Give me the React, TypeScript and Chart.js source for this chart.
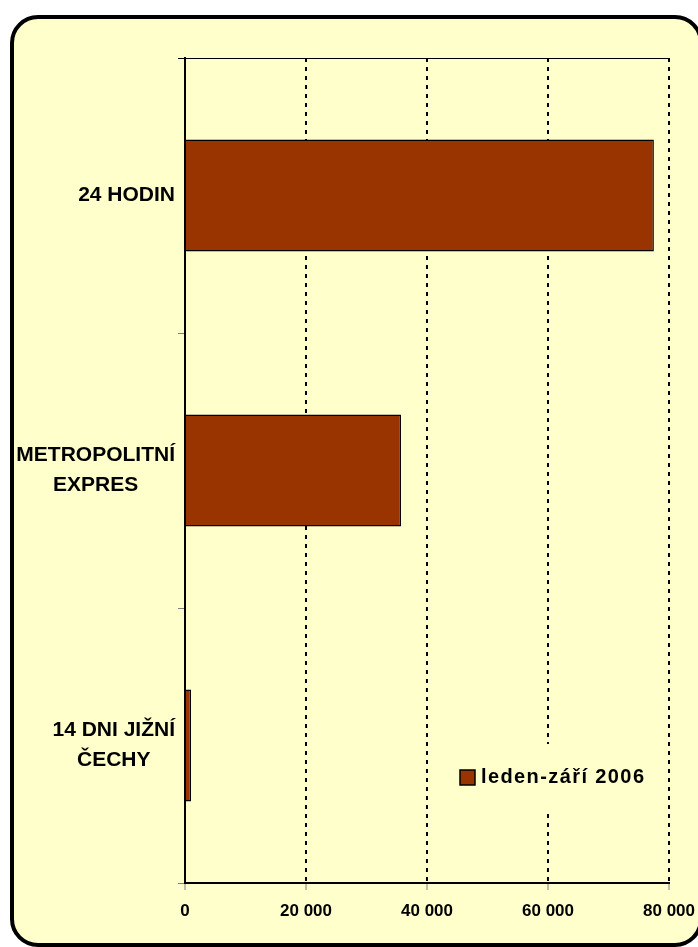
import { useEffect, useRef } from 'react';
import { Chart, registerables } from 'chart.js';

Chart.register(...registerables);

const categories: string[][] = [['24 HODIN'], ['METROPOLITNÍ', 'EXPRES'], ['14 DNI JIŽNÍ', 'ČECHY']];
const seriesLabel = 'leden-září 2006';
const seriesValues: number[] = [77500, 35700, 1000];
const xTickValues: number[] = [0, 20000, 40000, 60000, 80000];

const FONT = "'Liberation Sans', Arial, Helvetica, sans-serif";
const BG = '#FFFFCC';
const BAR = '#993300';
const CANVAS_W = 740;

const fmt = (v: number) => String(v).replace(/\B(?=(\d{3})+(?!\d))/g, ' ');

const categoryLabelPlugin = {
  id: 'categoryLabels',
  afterDraw(chart: any) {
    const ctx = chart.ctx as CanvasRenderingContext2D;
    const y = chart.scales.y;
    ctx.save();
    ctx.font = `bold 21px ${FONT}`;
    ctx.fillStyle = '#000';
    ctx.textAlign = 'center';
    ctx.textBaseline = 'middle';
    const lineH = 30;
    const right = y.right - 10;
    (chart.data.labels as string[][]).forEach((lines, i) => {
      const cy = y.getPixelForTick(i);
      const w = Math.max(...lines.map((l) => ctx.measureText(l).width));
      const cx = right - w / 2;
      lines.forEach((l, j) => ctx.fillText(l, cx, cy + (j - (lines.length - 1) / 2) * lineH));
    });
    ctx.restore();
  },
};

const innerLegendPlugin = {
  id: 'innerLegend',
  afterDraw(chart: any) {
    const ctx = chart.ctx as CanvasRenderingContext2D;
    const area = chart.chartArea;
    const ds = chart.data.datasets[0];
    const bx = area.left + 255;
    const by = area.top + 686;
    ctx.save();
    ctx.fillStyle = BG;
    ctx.fillRect(bx, by, 220, 69);
    const sx = bx + 20;
    const sy = by + 26;
    ctx.fillStyle = ds.backgroundColor;
    ctx.fillRect(sx, sy, 15, 15);
    ctx.strokeStyle = '#000';
    ctx.lineWidth = 1.5;
    ctx.strokeRect(sx, sy, 15, 15);
    ctx.fillStyle = '#000';
    ctx.font = `bold 20px ${FONT}`;
    (ctx as any).letterSpacing = '1.4px';
    ctx.textAlign = 'left';
    ctx.textBaseline = 'middle';
    ctx.fillText(ds.label, sx + 21, sy + 7);
    ctx.restore();
  },
};

function BarChart() {
  const ref = useRef<HTMLCanvasElement | null>(null);
  useEffect(() => {
    if (!ref.current) return;
    const chart = new Chart(ref.current, {
      type: 'bar',
      data: {
        labels: categories as any,
        datasets: [
          {
            label: seriesLabel,
            data: seriesValues,
            backgroundColor: BAR,
            borderColor: '#000',
            borderWidth: 1.5,
            barPercentage: 0.407,
            categoryPercentage: 1,
          },
        ],
      },
      options: {
        indexAxis: 'y',
        responsive: false,
        animation: false,
        layout: { padding: { left: 0, top: 58, right: CANVAS_W - 669, bottom: 0 } },
        plugins: { legend: { display: false }, tooltip: { enabled: false } },
        scales: {
          x: {
            type: 'linear',
            min: xTickValues[0],
            max: xTickValues[xTickValues.length - 1],
            afterBuildTicks: (s: any) => {
              s.ticks = xTickValues.map((v) => ({ value: v }));
            },
            ticks: {
              callback: (v: any) => fmt(Number(v)),
              font: { family: FONT, size: 17, weight: 'bold' },
              color: '#000',
              padding: 11,
              maxRotation: 0,
              autoSkip: false,
            },
            grid: {
              color: (c: any) => (c.tick && c.tick.value === 0 ? 'rgba(0,0,0,0)' : '#000'),
              lineWidth: 2,
              tickColor: '#808080',
              tickLength: 7,
              tickWidth: 1,
            },
            border: { color: '#000', width: 2, dash: [4, 5] },
            afterFit: (s: any) => {
              s.height = 64;
            },
          },
          y: {
            ticks: { display: false },
            grid: {
              offset: true,
              color: (c: any) => (c.index === 0 ? '#000' : 'rgba(0,0,0,0)'),
              lineWidth: 1,
              tickColor: (c: any) => (c.index === 0 ? '#000' : '#808080'),
              tickLength: 7,
              tickWidth: 1,
            },
            border: { color: '#000', width: 2 },
            afterFit: (s: any) => {
              s.width = 185;
            },
          },
        },
      } as any,
      plugins: [categoryLabelPlugin, innerLegendPlugin],
    });
    return () => chart.destroy();
  }, []);
  return (
    <canvas
      ref={ref}
      width={CANVAS_W}
      height={947}
      style={{ position: 'absolute', left: 0, top: 0, width: CANVAS_W, height: 947 }}
    />
  );
}

export default function App() {
  return (
    <div style={{ position: 'fixed', left: 0, top: 0, width: 698, height: 947, overflow: 'hidden', background: '#fff' }}>
      <div
        style={{
          position: 'absolute',
          left: 10,
          top: 15,
          width: 693,
          height: 932,
          boxSizing: 'border-box',
          border: '4px solid #000',
          borderRadius: 28,
          background: BG,
        }}
      />
      <BarChart />
    </div>
  );
}
